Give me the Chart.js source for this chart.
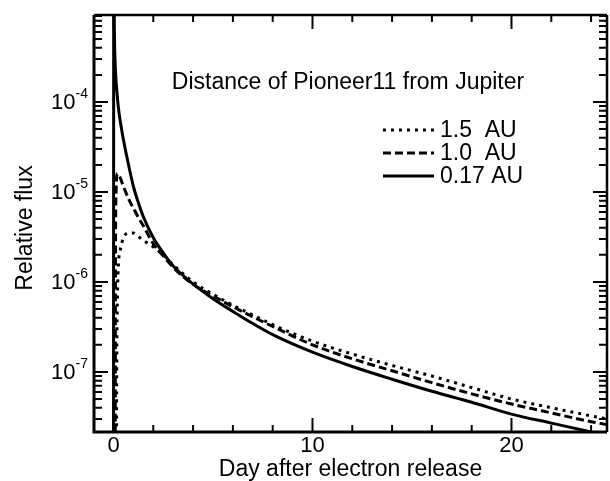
<!DOCTYPE html>
<html>
<head>
<meta charset="utf-8">
<script src="https://cdn.jsdelivr.net/npm/chart.js@4.4.1/dist/chart.umd.min.js"></script>
<style>
    body { margin: 0; background: #fff; }
    #wrap { width: 610px; height: 481px; }
</style>
</head>
<body>
<div id="wrap"><canvas id="fluxChart" width="610" height="481"></canvas></div>
<script>
// 전자 방출 후 경과일 (x축)
const days = [0, 0.01, 0.05, 0.08, 0.1, 0.13, 0.16, 0.2, 0.25, 0.33,
    0.5, 0.8, 1, 1.25, 1.5, 2, 2.5, 3, 4, 5,
    6, 7, 8, 10, 12, 14, 16, 18, 20, 22, 24, 25];

// 1.5 AU (점선)
const flux15 = [1e-9, 1e-9, 1e-9, 1e-9, 1e-9, 1e-9, 1e-7, 7e-7, 1.6e-6, 2.2e-6,
    3.1e-6, 3.5e-6, 3.5e-6, 3.2e-6, 2.9e-6, 2.45e-6, 2.0e-6, 1.55e-6, 1.0e-6, 7.3e-7,
    5.5e-7, 4.3e-7, 3.35e-7, 2.2e-7, 1.58e-7, 1.18e-7, 9e-8, 6.7e-8, 5.0e-8, 4.0e-8, 3.25e-8, 2.95e-8];

// 1.0 AU (파선)
const flux10 = [1e-9, 1e-9, 1e-9, 1e-9, 2e-6, 1e-5, 1.5e-5, 1.6e-5, 1.55e-5, 1.45e-5,
    1.15e-5, 8e-6, 6.6e-6, 5.2e-6, 4.2e-6, 2.65e-6, 1.95e-6, 1.45e-6, 9.4e-7, 7e-7,
    5.3e-7, 4.1e-7, 3.2e-7, 2.0e-7, 1.4e-7, 1.03e-7, 7.6e-8, 5.7e-8, 4.4e-8, 3.5e-8, 2.8e-8, 2.55e-8];

// 0.17 AU (실선)
const flux017 = [1e-9, 3e-3, 5e-4, 2.8e-4, 2.2e-4, 1.7e-4, 1.4e-4, 1.1e-4, 8.5e-5, 6.3e-5,
    3.8e-5, 1.8e-5, 1.15e-5, 7.6e-6, 5.3e-6, 3.1e-6, 2.1e-6, 1.5e-6, 9.5e-7, 6.5e-7,
    4.7e-7, 3.45e-7, 2.6e-7, 1.66e-7, 1.15e-7, 8.3e-8, 6.1e-8, 4.6e-8, 3.4e-8, 2.7e-8, 2.15e-8, 1.9e-8];

const seriesLabels = ['1.5  AU', '1.0  AU', '0.17 AU'];
const xTickLabels = [0, 10, 20];
const yDecades = [-7, -6, -5, -4];

const FONT = '"Liberation Sans", Arial, Helvetica, sans-serif';

function toPoints(values) {
    return days.map((d, i) => ({ x: d, y: values[i] }));
}

// 축, 눈금, 글자 그리기
const framePlugin = {
    id: 'frame',
    afterDraw(chart) {
        const ctx = chart.ctx;
        const a = chart.chartArea;
        const xs = chart.scales.x;
        const ys = chart.scales.y;
        ctx.save();
        ctx.strokeStyle = '#000';
        ctx.fillStyle = '#000';

        // 테두리
        ctx.lineWidth = 3;
        ctx.beginPath();
        ctx.moveTo(a.left, a.top);
        ctx.lineTo(a.left, a.bottom);
        ctx.lineTo(a.right, a.bottom);
        ctx.stroke();
        ctx.lineWidth = 2.5;
        ctx.beginPath();
        ctx.moveTo(a.left, a.top);
        ctx.lineTo(a.right, a.top);
        ctx.moveTo(a.right, a.top);
        ctx.lineTo(a.right, a.bottom);
        ctx.stroke();

        // x축 눈금 (위, 아래)
        ctx.lineWidth = 2;
        for (let v = 0; v <= 24; v += 2) {
            const px = xs.getPixelForValue(v);
            const len = v % 10 === 0 ? 14 : 7;
            ctx.beginPath();
            ctx.moveTo(px, a.bottom);
            ctx.lineTo(px, a.bottom - len);
            ctx.moveTo(px, a.top);
            ctx.lineTo(px, a.top + len);
            ctx.stroke();
        }

        // y축 눈금 (왼쪽, 오른쪽)
        for (let d = -8; d <= -3; d++) {
            for (let m = 1; m <= 9; m++) {
                const v = m * Math.pow(10, d);
                if (v < ys.min || v > ys.max) continue;
                const py = ys.getPixelForValue(v);
                const len = m === 1 ? 14 : 8;
                ctx.beginPath();
                ctx.moveTo(a.left, py);
                ctx.lineTo(a.left + len, py);
                ctx.moveTo(a.right, py);
                ctx.lineTo(a.right - len, py);
                ctx.stroke();
            }
        }

        // y축 라벨 10^n
        ctx.textBaseline = 'middle';
        yDecades.forEach(d => {
            const py = ys.getPixelForValue(Math.pow(10, d));
            ctx.font = '14px ' + FONT;
            ctx.textAlign = 'right';
            const exp = '-' + Math.abs(d);
            ctx.fillText(exp, 88, py - 8);
            const ew = ctx.measureText(exp).width;
            ctx.font = '22px ' + FONT;
            ctx.fillText('10', 88 - ew, py + 1);
        });

        // x축 라벨
        ctx.font = '22px ' + FONT;
        ctx.textAlign = 'center';
        xTickLabels.forEach(v => {
            ctx.fillText(String(v), xs.getPixelForValue(v), 446);
        });

        // 축 제목
        ctx.font = '23px ' + FONT;
        ctx.fillText('Day after electron release', (a.left + a.right) / 2, 470);
        ctx.save();
        ctx.translate(26, 228);
        ctx.rotate(-Math.PI / 2);
        ctx.fillText('Relative flux', 0, 0);
        ctx.restore();

        // 그림 안 제목
        ctx.fillText('Distance of Pioneer11 from Jupiter', 348, 83);

        // 범례
        const legendY = [130, 153, 176];
        chart.data.datasets.forEach((ds, i) => {
            ctx.lineWidth = ds.borderWidth;
            ctx.setLineDash(ds.borderDash || []);
            ctx.beginPath();
            ctx.moveTo(383, legendY[i]);
            ctx.lineTo(434, legendY[i]);
            ctx.stroke();
            ctx.setLineDash([]);
            ctx.textAlign = 'left';
            ctx.fillText(seriesLabels[i], 440, legendY[i] + 1);
        });

        ctx.restore();
    }
};

new Chart(document.getElementById('fluxChart'), {
    type: 'line',
    data: {
        datasets: [
            {
                label: seriesLabels[0],
                data: toPoints(flux15),
                borderColor: '#000',
                borderWidth: 3,
                borderDash: [3, 5],
                cubicInterpolationMode: 'monotone'
            },
            {
                label: seriesLabels[1],
                data: toPoints(flux10),
                borderColor: '#000',
                borderWidth: 3,
                borderDash: [8, 4],
                cubicInterpolationMode: 'monotone'
            },
            {
                label: seriesLabels[2],
                data: toPoints(flux017),
                borderColor: '#000',
                borderWidth: 3,
                cubicInterpolationMode: 'monotone'
            }
        ]
    },
    options: {
        responsive: false,
        animation: false,
        layout: {
            padding: { left: 94, right: 3, top: 15, bottom: 49 }
        },
        elements: {
            point: { radius: 0 }
        },
        plugins: {
            legend: { display: false },
            tooltip: { enabled: false }
        },
        scales: {
            x: {
                type: 'linear',
                display: false,
                min: -0.98,
                max: 24.8
            },
            y: {
                type: 'logarithmic',
                display: false,
                min: 2.15e-8,
                max: 9.26e-4
            }
        }
    },
    plugins: [framePlugin]
});
</script>
</body>
</html>
